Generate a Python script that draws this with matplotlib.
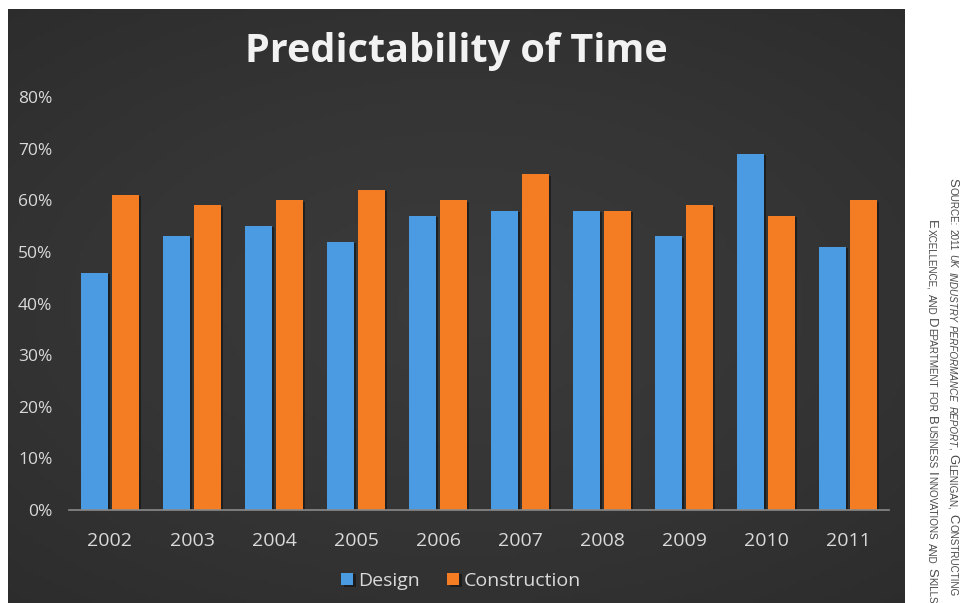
import numpy as np
import matplotlib.pyplot as plt
import matplotlib.patheffects as pe
from matplotlib.colors import LinearSegmentedColormap

# data (percent)
years = ['2002', '2003', '2004', '2005', '2006', '2007', '2008', '2009', '2010', '2011']
design = [46, 53, 55, 52, 57, 58, 58, 53, 69, 51]
construction = [61, 59, 60, 62, 60, 65, 58, 59, 57, 60]
y_ticks = [0, 10, 20, 30, 40, 50, 60, 70, 80]

W, H = 963, 603
fig = plt.figure(figsize=(W / 100, H / 100), dpi=100, facecolor='white')

# dark slide background with a soft gradient
bg = fig.add_axes([8 / W, 0, 896 / W, 594 / H])
bg.axis('off')
gx, gy = np.meshgrid(np.linspace(-1, 1, 200), np.linspace(-1, 1, 130))
r = np.sqrt((gx * 0.9) ** 2 + (gy * 1.0) ** 2)
cmap_bg = LinearSegmentedColormap.from_list('bg', ['#3b3b3b', '#353535', '#2c2c2c'])
bg.imshow(r, cmap=cmap_bg, aspect='auto', extent=[0, 1, 0, 1], vmin=0, vmax=1.4)
bg.set_xlim(0, 1)
bg.set_ylim(0, 1)

ax = fig.add_axes([69 / W, 93 / H, 820 / W, 413 / H])
ax.patch.set_alpha(0)

x = np.arange(len(years))
shadow = [pe.SimplePatchShadow(offset=(2, -1), shadow_rgbFace='#151515', alpha=0.7), pe.Normal()]
b1 = ax.bar(x - 0.19, design, width=0.32, color='#4b9be3', label='Design', zorder=2)
b2 = ax.bar(x + 0.19, construction, width=0.32, color='#f47c22', label='Construction', zorder=2)
for p in list(b1) + list(b2):
    p.set_path_effects(shadow)

ax.set_xlim(-0.5, 9.5)
ax.set_ylim(0, 80)
ax.set_xticks(x)
ax.set_xticklabels(years)
ax.set_yticks(y_ticks)
ax.set_yticklabels([f'{v}%' for v in y_ticks])
for s in ['top', 'right', 'left']:
    ax.spines[s].set_visible(False)
ax.spines['bottom'].set_color('#8a8a8a')
ax.spines['bottom'].set_linewidth(1.2)
ax.spines['bottom'].set_zorder(3)
ax.tick_params(axis='x', length=0, pad=16, labelsize=14, labelcolor='#d9d9d9')
ax.tick_params(axis='y', length=0, pad=12, labelsize=12.5, labelcolor='#d9d9d9')
for lab in ax.get_xticklabels() + ax.get_yticklabels():
    lab.set_family('Open Sans')

fig.text(456 / W, 1 - 62 / H, 'Predictability of Time', ha='center', va='baseline',
         fontsize=28.5, fontweight='bold', family='Open Sans', color='#f2f2f2')

fig.legend(handles=[b1, b2], loc='center', bbox_to_anchor=(461 / W, 1 - 581 / H), ncol=2,
           frameon=False, handlelength=0.62, handleheight=0.62, handletextpad=0.25,
           columnspacing=1.4, prop={'family': 'Open Sans', 'size': 14}, labelcolor='#d9d9d9')


# source note, vertical, in small caps
def sc(text, italic=False, initials=True):
    toks = []
    for i, word in enumerate(text.split(' ')):
        if i:
            toks.append((' ', 'gap', italic))
        rest = word
        if initials and word[:1].isupper():
            toks.append((word[0], 'big', italic))
            rest = word[1:]
        if rest:
            toks.append((rest.upper(), 'small', italic))
    return toks


line1 = (sc('Source: 2011') + [(' ', 'gap', False)]
         + sc('UK Industry Performance Report', italic=True, initials=False)
         + sc(', Glenigan, Constructing'))
line2 = sc('Excellence, and Department for Business Innovations and Skills')

sizes = {'big': 9.4, 'small': 7.1}
renderer = fig.canvas.get_renderer()


def draw_vertical(tokens, xb, y0):
    y = y0
    for txt, kind, italic in tokens:
        if kind == 'gap':
            y += 3.2
            continue
        t = fig.text(xb / W, 1 - y / H, txt, rotation=-90, rotation_mode='anchor',
                     ha='left', va='baseline', fontsize=sizes[kind],
                     style='italic' if italic else 'normal',
                     family='Liberation Sans', color='#4a4a4a')
        y += t.get_window_extent(renderer).height + 0.5


draw_vertical(line1, 949, 178)
draw_vertical(line2, 928, 220)

fig.savefig('out.png', dpi=100, facecolor='white')
